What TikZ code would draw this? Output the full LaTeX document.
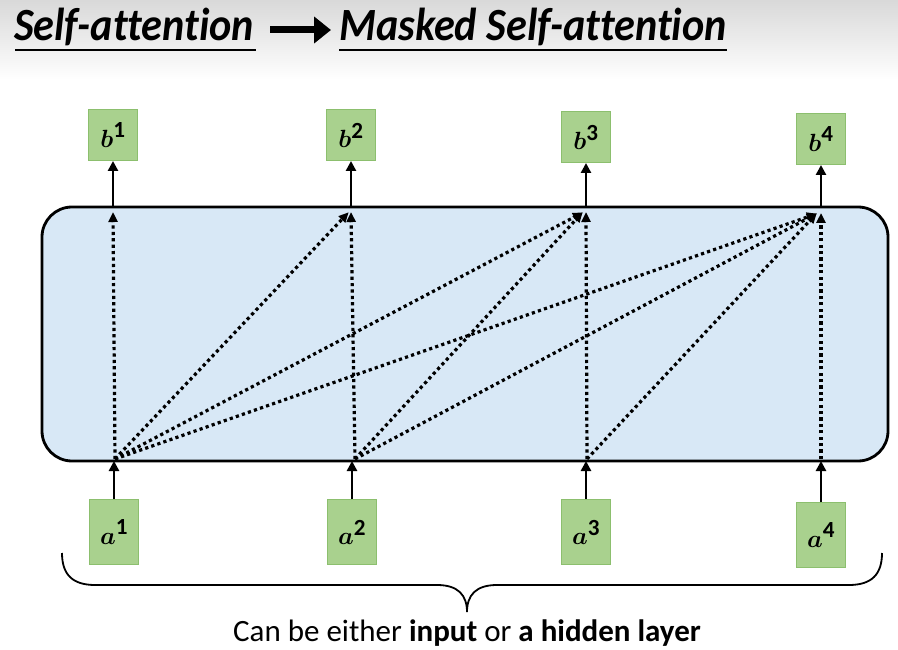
\documentclass[tikz,border=0pt]{standalone}
\usepackage{fontspec}
\usepackage{amsmath}
\usepackage{bm}
\setmainfont{Carlito}
\usetikzlibrary{arrows.meta}
\definecolor{boxfill}{HTML}{A9D18E}
\definecolor{boxline}{HTML}{8CBF6E}
\definecolor{layerfill}{HTML}{D8E8F6}
\tikzset{
  vec/.style={draw=boxline, fill=boxfill, line width=1pt, minimum width=49pt, inner sep=0pt, font=\fontsize{33}{35}\selectfont},
  solidarrow/.style={line width=2.8pt, -{Triangle[length=10pt,width=10pt]}},
  dotarrow/.style={line width=3.2pt, dash pattern=on 3.2pt off 3.2pt, -{Triangle[length=10pt,width=9pt]}, shorten >=-1pt},
  titlefont/.style={font=\fontsize{44}{48}\selectfont\bfseries\itshape\addfontfeature{Ligatures=NoCommon}}
}
\begin{document}
\begin{tikzpicture}[x=1pt,y=-1pt]
\useasboundingbox (0,0) rectangle (898,650);
\shade[top color=black!15, bottom color=white] (0,0) rectangle (898,80);
% title
\node[anchor=base west, inner sep=0pt, titlefont] (t1) at (14,41) {\scalebox{0.96}[1.05]{Self-attention}};
\draw[line width=1.2pt] (15,50) -- (256,50);
\node[anchor=base west, inner sep=0pt, titlefont] (t2) at (339,41) {\scalebox{0.96}[1.05]{Masked Self-attention}};
\draw[line width=1.2pt] (339,50) -- (727,50);
\draw[line width=7pt, -{Triangle[length=17pt,width=26pt]}] (270,30) -- (331,30);
% layer
\node[draw=black, fill=layerfill, line width=2.8pt, rounded corners=30pt, minimum width=846pt, minimum height=254pt] (layer) at (465,334) {};
% output boxes
\node[vec, minimum height=51pt] (b1) at (113,135) {$\bm{b}^{\mathbf{1}}$};
\node[vec, minimum height=51pt] (b2) at (351,135) {$\bm{b}^{\mathbf{2}}$};
\node[vec, minimum height=51pt] (b3) at (586,137) {$\bm{b}^{\mathbf{3}}$};
\node[vec, minimum height=51pt] (b4) at (821,139) {$\bm{b}^{\mathbf{4}}$};
% input boxes
\node[vec, minimum height=65pt] (a1) at (114,532) {$\bm{a}^{\mathbf{1}}$};
\node[vec, minimum height=65pt] (a2) at (352,532) {$\bm{a}^{\mathbf{2}}$};
\node[vec, minimum height=65pt] (a3) at (586,532) {$\bm{a}^{\mathbf{3}}$};
\node[vec, minimum height=65pt] (a4) at (821,535) {$\bm{a}^{\mathbf{4}}$};
% coordinates on layer edges
\coordinate (ot1) at (113,207); \coordinate (ot2) at (351,207);
\coordinate (ot3) at (586,207); \coordinate (ot4) at (821,207);
\coordinate (ib1) at (114,461); \coordinate (ib2) at (352,461);
\coordinate (ib3) at (586,461); \coordinate (ib4) at (821,461);
\coordinate (t1) at (113,213); \coordinate (t2) at (348,213);
\coordinate (t3) at (582,213); \coordinate (t4) at (816,214);
\coordinate (v2) at (351,213); \coordinate (v3) at (586,213);
\coordinate (v4) at (821,214);
\coordinate (s1) at (115,459); \coordinate (s2) at (355,459);
\coordinate (s3) at (587,459); \coordinate (s4) at (821,459);
% solid arrows
\foreach \i in {1,2,3,4}{
  \draw[solidarrow] (ot\i) -- (b\i.south);
  \draw[solidarrow] (a\i.north) -- (ib\i);
}
% dotted attention arrows
\draw[dotarrow] (s1) -- (t1);
\draw[dotarrow] (s1) -- (t2);
\draw[dotarrow] (s1) -- (t3);
\draw[dotarrow] (s1) -- (t4);
\draw[dotarrow] (s2) -- (v2);
\draw[dotarrow] (s2) -- (t3);
\draw[dotarrow] (s2) -- (t4);
\draw[dotarrow] (s3) -- (v3);
\draw[dotarrow] (s3) -- (t4);
\draw[dotarrow] (s4) -- (v4);
% brace
\coordinate (bl) at (62,553); \coordinate (br) at (882,553); \coordinate (tip) at (467,612);
\draw[line width=1.8pt] (bl) .. controls (62,574) and (72,585) .. (95,585) -- (437,585)
  .. controls (458,585) and (467,595) .. (tip)
  .. controls (467,595) and (476,585) .. (497,585) -- (849,585)
  .. controls (872,585) and (882,574) .. (br);
\node[inner sep=0pt, anchor=base, font=\fontsize{31}{34}\selectfont] (cap) at (467,641) {Can be either \textbf{input} or \textbf{a hidden layer}};
\end{tikzpicture}
\end{document}
